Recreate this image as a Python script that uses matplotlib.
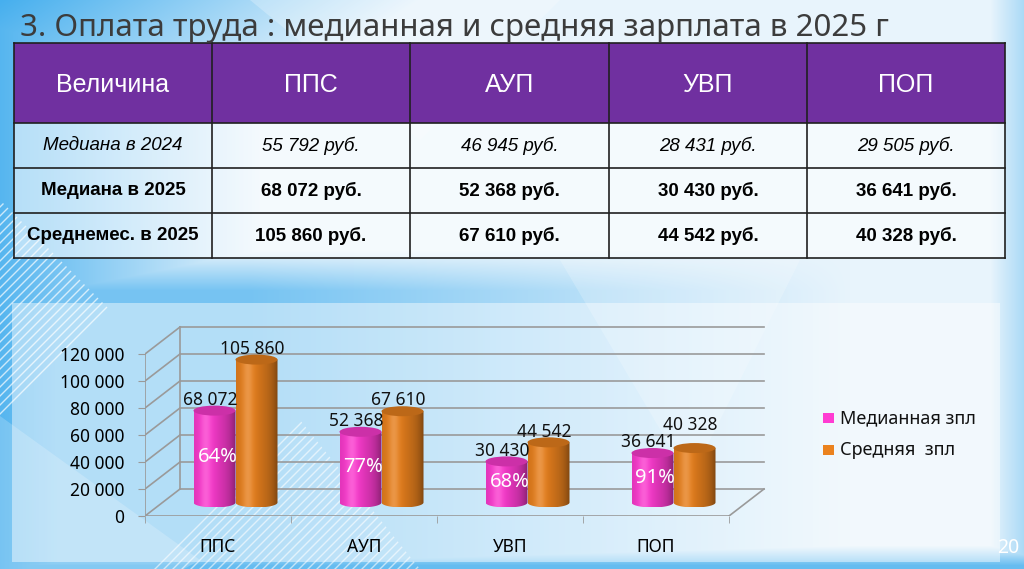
import numpy as np
import matplotlib.pyplot as plt
from matplotlib.patches import Rectangle, Ellipse, Polygon, PathPatch
from matplotlib.path import Path

plt.rcParams['font.family'] = ['Noto Sans', 'DejaVu Sans']

# данные
groups = ['ППС', 'АУП', 'УВП', 'ПОП']
row_names = ['Медиана в 2024', 'Медиана в 2025', 'Среднемес. в 2025']
median_2024 = [55792, 46945, 28431, 29505]
median_2025 = [68072, 52368, 30430, 36641]
mean_2025 = [105860, 67610, 44542, 40328]
series_names = ['Медианная зпл', 'Средняя  зпл']
yticks = [0, 20000, 40000, 60000, 80000, 100000, 120000]

PINK = (255, 60, 210)
ORANGE = (235, 130, 30)


def fmt(v):
    return f'{v:,}'.replace(',', ' ')


fig = plt.figure(figsize=(10.24, 5.69), dpi=100)

# --- фон слайда ---
bg = fig.add_axes([0, 0, 1, 1])
bg.set_xlim(0, 1024)
bg.set_ylim(569, 0)
bg.axis('off')

yy, xx = np.mgrid[0:569, 0:1024]
light = np.array([232, 244, 252]) / 255
blue = np.array([70, 175, 238]) / 255
w = np.clip(1 - xx / 260, 0, 1) * 0.9
w = np.maximum(w, np.clip((yy - 250) / 40, 0, 1) * np.clip(1 - (xx - 250) / 600, 0, 1) * 0.7)
w = np.maximum(w, np.clip((yy - 545) / 20, 0, 1) * 0.8)
w = np.maximum(w, np.clip((xx - 990) / 40, 0, 1) * 0.45)
w = np.maximum(w, np.clip(1 - (xx + yy * 1.5) / 420, 0, 1))
img = light[None, None, :] * (1 - w[..., None]) + blue[None, None, :] * w[..., None]
bg.imshow(img, extent=[0, 1024, 569, 0], aspect='auto', zorder=0)

# светлые треугольники
for pts, a in [([(250, 0), (560, 0), (420, 140)], 0.25),
               ([(560, 260), (800, 260), (690, 480)], 0.2),
               ([(-50, 380), (200, 560), (-50, 700)], 0.2)]:
    bg.add_patch(Polygon(pts, closed=True, fc='white', ec='none', alpha=a, zorder=1))

# диагональная штриховка
hatch_clip = Polygon([(0, 200), (110, 310), (0, 420)], closed=True, fc='none', ec='none')
bg.add_patch(hatch_clip)
for k in range(-600, 700, 9):
    ln, = bg.plot([k, k + 600], [600, 0], color='white', lw=1, alpha=0.7, zorder=1)
    ln.set_clip_path(hatch_clip)
hatch_clip2 = Polygon([(150, 569), (300, 420), (420, 569)], closed=True, fc='none', ec='none')
bg.add_patch(hatch_clip2)
for k in range(-200, 900, 9):
    ln, = bg.plot([k, k + 600], [600, 0], color='white', lw=1, alpha=0.6, zorder=1)
    ln.set_clip_path(hatch_clip2)

# панель диаграммы
bg.add_patch(Rectangle((12, 303), 988, 259, fc='white', ec='none', alpha=0.45, zorder=2))

# --- заголовок ---
bg.text(20, 28, '3. Оплата труда : медианная и средняя зарплата в 2025 г',
        fontsize=22.5, color='#3c3c3c', fontweight='light', va='center', ha='left', zorder=5)

# --- таблица ---
col_x = [14, 212, 410, 609, 807, 1005]
row_y = [43, 123, 168, 213, 258]
tfont = ['Liberation Sans', 'DejaVu Sans']
bg.add_patch(Rectangle((col_x[0], row_y[0]), col_x[-1] - col_x[0], row_y[1] - row_y[0],
                       fc='#7030a0', ec='none', zorder=3))
bg.add_patch(Rectangle((col_x[0], row_y[1]), col_x[-1] - col_x[0], row_y[-1] - row_y[1],
                       fc='white', ec='none', alpha=0.55, zorder=3))
for x in col_x:
    bg.plot([x, x], [row_y[0], row_y[-1]], color='#202020', lw=1.2, zorder=4)
for y in row_y:
    bg.plot([col_x[0], col_x[-1]], [y, y], color='#202020', lw=1.2, zorder=4)

header = ['Величина'] + groups
for j, h in enumerate(header):
    bg.text((col_x[j] + col_x[j + 1]) / 2, (row_y[0] + row_y[1]) / 2 + 2, h,
            family=tfont, fontsize=18, color='white', ha='center', va='center', zorder=5)

table_rows = [median_2024, median_2025, mean_2025]
styles = [dict(style='italic'), dict(fontweight='bold'), dict(fontweight='bold')]
for i, (name, vals) in enumerate(zip(row_names, table_rows)):
    yc = (row_y[i + 1] + row_y[i + 2]) / 2
    bg.text((col_x[0] + col_x[1]) / 2, yc, name, family=tfont, fontsize=13.5,
            color='black', ha='center', va='center', zorder=5, **styles[i])
    for j, v in enumerate(vals):
        bg.text((col_x[j + 1] + col_x[j + 2]) / 2, yc, fmt(v) + ' руб.', family=tfont,
                fontsize=13.5, color='black', ha='center', va='center', zorder=5, **styles[i])

# --- 3D-диаграмма ---
px_x, px_y = 146.0, 27.0 / 20000       # пикселей на единицу
x_lo, x_hi, y_hi = -0.5, 3.8, 145000
ax_left, ax_bottom = 145, 516
ax = fig.add_axes([ax_left / 1024, (569 - ax_bottom) / 569,
                   (x_hi - x_lo) * px_x / 1024, y_hi * px_y / 569])
ax.patch.set_alpha(0)
for s in ax.spines.values():
    s.set_visible(False)

dx = 35 / px_x
dy = 20000
grid_c = '#9a9a9a'

for v in yticks:
    ax.plot([-0.5 + dx, 3.5 + dx], [v + dy, v + dy], color=grid_c, lw=1.2, zorder=1)
    ax.plot([-0.5, -0.5 + dx], [v, v + dy], color=grid_c, lw=1.2, zorder=1)
ax.plot([-0.5, -0.5], [0, yticks[-1]], color=grid_c, lw=1.2, zorder=1)
ax.plot([-0.5 + dx, -0.5 + dx], [dy, yticks[-1] + dy], color=grid_c, lw=1.2, zorder=1)
ax.plot([-0.5, 3.5], [0, 0], color=grid_c, lw=1.2, zorder=1)
ax.plot([3.5, 3.5 + dx], [0, dy], color=grid_c, lw=1.2, zorder=1)

ax.set_yticks(yticks, [fmt(v) for v in yticks])
ax.set_xticks(range(len(groups)), groups)
ax.set_xticks([-0.5, 0.5, 1.5, 2.5, 3.5], minor=True)
ax.tick_params(axis='y', length=5, color=grid_c, labelsize=12.5, pad=10)
ax.tick_params(axis='x', which='major', length=0, labelsize=12.5, pad=16)
ax.tick_params(axis='x', which='minor', length=5, color=grid_c)


def shade(rgb, n=80):
    t = np.linspace(0, 1, n)
    k = 0.86 + 0.12 * np.exp(-((t - 0.3) / 0.25) ** 2) - 0.32 * t ** 5
    hl = 0.18 * np.exp(-((t - 0.28) / 0.12) ** 2)
    c = np.array(rgb) / 255.0
    col = c[None, :] * k[:, None]
    col = col + (1 - col) * hl[:, None]
    return np.clip(col, 0, 1)[None, :, :]


def cylinder(xc, base, h, width, e, rgb, z):
    x0, x1 = xc - width / 2, xc + width / 2
    top = base + h
    th = np.linspace(np.pi, 2 * np.pi, 40)
    arc = np.column_stack([xc + width / 2 * np.cos(th), base + e * np.sin(th)])
    verts = np.vstack([[x0, top], arc, [x1, top], [x0, top]])
    body = PathPatch(Path(verts), fc='none', ec='none', zorder=z)
    ax.add_patch(body)
    im = ax.imshow(shade(rgb), extent=[x0, x1, base - e, top], aspect='auto',
                   interpolation='bilinear', zorder=z)
    im.set_clip_path(body)
    top_c = tuple(np.array(rgb) / 255.0 * 0.8)
    ax.add_patch(Ellipse((xc, top), width, 2 * e, fc=top_c, ec='none', zorder=z + 0.1))


bw = 42 / px_x
ell = 5 / px_y
base = dy / 2
lab_off = 8000
for i in range(len(groups)):
    xp = i + dx / 2 - bw / 2
    xo = i + dx / 2 + bw / 2
    cylinder(xp, base, median_2025[i], bw, ell, PINK, 3 + i)
    cylinder(xo, base, mean_2025[i], bw, ell, ORANGE, 3.5 + i)
    yp = base + median_2025[i] + lab_off
    yo = base + mean_2025[i] + lab_off
    # если подписи почти на одной высоте — поднимаем подпись средней
    if yo - yp < 13000:
        yo = yp + 13000
    ax.text(xp - 0.03, yp, fmt(median_2025[i]), fontsize=12.5,
            ha='center', va='center', color='#111111', zorder=10)
    ax.text(xo - 0.03, yo, fmt(mean_2025[i]), fontsize=12.5,
            ha='center', va='center', color='#111111', zorder=10)
    pct = round(100 * median_2025[i] / mean_2025[i])
    ax.text(xp + 0.02, base + median_2025[i] / 2, f'{pct}%', fontsize=14.5,
            ha='center', va='center', color='white', zorder=10)

ax.set_xlim(x_lo, x_hi)
ax.set_ylim(0, y_hi)

# легенда
for k, (name, c) in enumerate(zip(series_names, [PINK, ORANGE])):
    yc = 418 + k * 32
    bg.add_patch(Rectangle((823, yc - 5), 11, 10, fc=np.array(c) / 255, ec='none', zorder=5))
    bg.text(840, yc, name, fontsize=13, ha='left', va='center', color='#111111', zorder=5)

bg.text(1008, 548, '20', fontsize=14, color='white', ha='center', va='center', zorder=5)

fig.savefig('out.png', dpi=100)
